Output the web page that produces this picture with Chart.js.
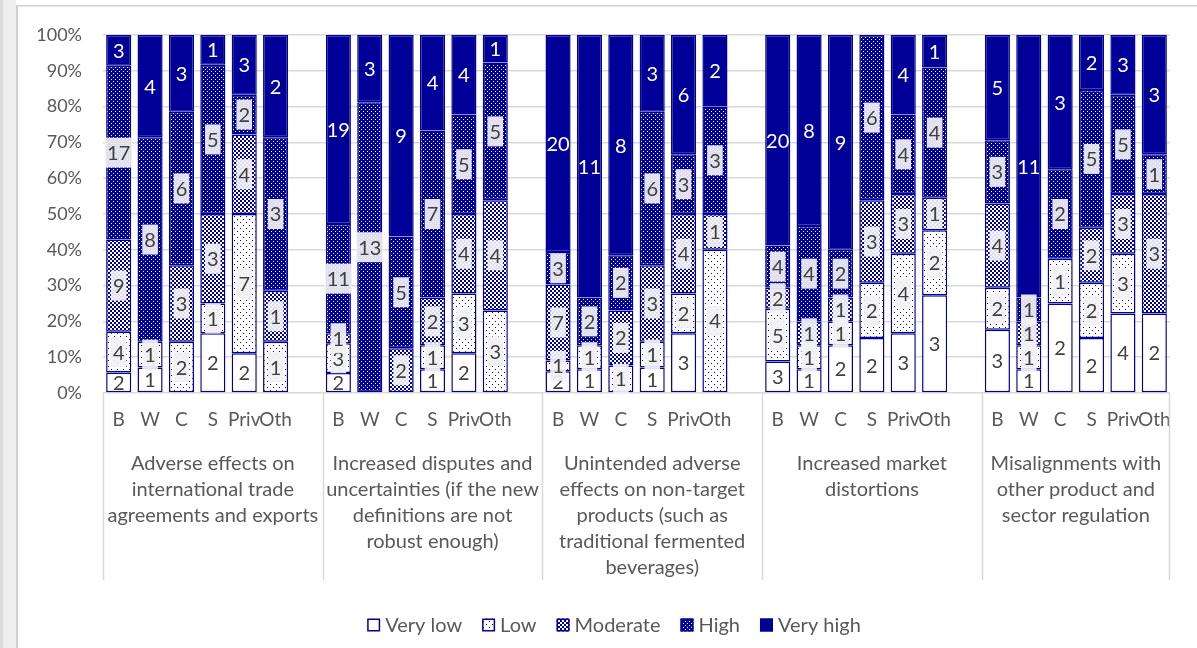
<!DOCTYPE html>
<html><head><meta charset="utf-8">
<script src="https://cdn.jsdelivr.net/npm/chart.js@4.4.1/dist/chart.umd.min.js"></script>
<style>html,body{margin:0;padding:0;background:#fff;}canvas{display:block;}</style>
</head><body>
<canvas id="c" width="1197" height="648"></canvas>
<script>
// ---- data ----
const subCategories = ['B','W','C','S','Priv','Oth'];
const groupLabels = [
  ['Adverse effects on','international trade','agreements and exports'],
  ['Increased disputes and','uncertainties (if the new','definitions are not','robust enough)'],
  ['Unintended adverse','effects on non-target','products (such as','traditional fermented','beverages)'],
  ['Increased market','distortions'],
  ['Misalignments with','other product and','sector regulation']
];
const seriesNames = ['Very low','Low','Moderate','High','Very high'];
// counts per group, in the order B, W, C, S, Priv, Oth
const veryLow  = [2,1,0,2,2,0,  2,0,0,1,2,0,  2,1,0,1,3,0,  3,1,2,2,3,3,  3,1,2,2,4,2];
const low      = [4,1,2,1,7,1,  3,0,0,1,3,3,  1,1,1,1,2,4,  5,1,1,2,4,2,  2,1,1,2,3,0];
const moderate = [9,0,3,3,4,1,  1,0,2,2,4,4,  7,0,2,3,4,1,  2,1,1,3,3,1,  4,1,0,2,3,3];
const high     = [17,8,6,5,2,3, 11,13,5,7,5,5, 3,2,2,6,3,3,  4,4,2,6,4,4,  3,1,2,5,5,1];
const veryHigh = [3,4,3,1,3,2,  19,3,9,4,4,1, 20,11,8,3,6,2, 20,8,9,0,4,1, 5,11,3,2,3,3];
const yTicks = [0,10,20,30,40,50,60,70,80,90,100];

// ---- build table ----
const BLUE = '#000099';
const TEXT = '#595959';
const FONT = 'Lato';
const series = [veryLow, low, moderate, high, veryHigh];
const labels = [];
const slotIndex = [];
groupLabels.forEach((g, gi) => {
  subCategories.forEach(s => { slotIndex.push(labels.length); labels.push(s); });
  if (gi < groupLabels.length - 1) labels.push('');
});
const totals = veryLow.map((_, i) => series.reduce((a, s) => a + s[i], 0));

const canvas = document.getElementById('c');
const ctx = canvas.getContext('2d');
function makePattern(size, bg, fg, pix) {
  const t = document.createElement('canvas'); t.width = t.height = size;
  const g = t.getContext('2d');
  g.fillStyle = bg; g.fillRect(0, 0, size, size);
  g.fillStyle = fg; pix.forEach(p => g.fillRect(p[0], p[1], p[2] || 1, p[3] || 1));
  return ctx.createPattern(t, 'repeat');
}
const fills = [
  '#ffffff',
  makePattern(6, '#ffffff', BLUE, [[0,0],[3,3]]),
  makePattern(4, '#ffffff', BLUE, [[0,0,2,2],[2,2,2,2]]),
  makePattern(4, BLUE, '#ffffff', [[1,1],[3,3]]),
  BLUE
];

const datasets = series.map((s, k) => {
  const data = new Array(labels.length).fill(null);
  const counts = new Array(labels.length).fill(0);
  s.forEach((v, i) => {
    data[slotIndex[i]] = v > 0 ? v / totals[i] * 100 : null;
    counts[slotIndex[i]] = v;
  });
  return {
    label: seriesNames[k], data, counts,
    backgroundColor: fills[k], borderColor: BLUE, borderWidth: 1.5, borderSkipped: false,
    categoryPercentage: 1, barPercentage: 0.8
  };
});

// ---- plugins ----
const framePlugin = {
  id: 'frame',
  beforeDraw(chart) {
    const c = chart.ctx;
    c.save();
    c.fillStyle = '#ffffff'; c.fillRect(0, 0, chart.width, chart.height);
    c.fillStyle = '#dadada'; c.fillRect(0, 0, 3, chart.height);
    c.fillStyle = '#eeeeee'; c.fillRect(3, 0, 13, chart.height);
    c.fillStyle = '#d0d0d0'; c.fillRect(16, 5, 2, chart.height);
    c.fillRect(16, 5, chart.width, 1.5);
    c.restore();
  }
};

const valueLabels = {
  id: 'valueLabels',
  afterDatasetsDraw(chart) {
    const c = chart.ctx;
    c.save();
    c.font = '20px ' + FONT;
    c.textAlign = 'center'; c.textBaseline = 'middle';
    chart.data.datasets.forEach((ds, di) => {
      const meta = chart.getDatasetMeta(di);
      meta.data.forEach((el, j) => {
        const n = ds.counts[j];
        if (!n) return;
        const y = (el.y + el.base) / 2;
        const txt = String(n);
        if (di >= 1 && di <= 3) {
          const w = c.measureText(txt).width + 4;
          c.fillStyle = 'rgba(242,242,244,0.92)';
          c.fillRect(el.x - w / 2, y - 15, w, 30);
        }
        c.fillStyle = di === 4 ? '#ffffff' : '#404040';
        c.fillText(txt, el.x, y + 1);
      });
    });
    c.restore();
  }
};

const groupAxis = {
  id: 'groupAxis',
  afterDraw(chart) {
    const c = chart.ctx, xs = chart.scales.x, a = chart.chartArea;
    const slot = xs.getPixelForValue(1) - xs.getPixelForValue(0);
    c.save();
    c.strokeStyle = '#d9d9d9'; c.lineWidth = 1.5;
    c.fillStyle = TEXT; c.font = '20px ' + FONT;
    c.textAlign = 'center'; c.textBaseline = 'middle';
    let start = 0;
    groupLabels.forEach((lines, gi) => {
      const n = subCategories.length + (gi < groupLabels.length - 1 ? 1 : 0);
      const x0 = xs.getPixelForValue(start) - slot / 2;
      const x1 = xs.getPixelForValue(start + n - 1) + slot / 2;
      c.beginPath(); c.moveTo(Math.round(x0) + 0.5, a.bottom); c.lineTo(Math.round(x0) + 0.5, 580); c.stroke();
      if (gi === groupLabels.length - 1) { c.beginPath(); c.moveTo(Math.round(x1) - 0.5, a.bottom); c.lineTo(Math.round(x1) - 0.5, 580); c.stroke(); }
      lines.forEach((t, li) => c.fillText(t, (x0 + x1) / 2, 464 + li * 26));
      start += n;
    });
    c.restore();
  }
};

const legendPlugin = {
  id: 'customLegend',
  afterDraw(chart) {
    const c = chart.ctx;
    c.save();
    c.font = '20px ' + FONT;
    c.textBaseline = 'middle';
    const box = 13, gapText = 5, gapItem = 20, y = 625;
    const items = chart.data.datasets.map(d => ({ d, w: box + gapText + c.measureText(d.label).width }));
    const total = items.reduce((s, it) => s + it.w, 0) + gapItem * (items.length - 1);
    let x = 614 - total / 2;
    items.forEach(it => {
      c.fillStyle = it.d.backgroundColor;
      c.fillRect(x, y - box / 2, box, box);
      c.strokeStyle = BLUE; c.lineWidth = 1.5;
      c.strokeRect(x + 0.75, y - box / 2 + 0.75, box - 1.5, box - 1.5);
      c.fillStyle = TEXT;
      c.fillText(it.d.label, x + box + gapText, y + 1);
      x += it.w + gapItem;
    });
    c.restore();
  }
};

new Chart(ctx, {
  type: 'bar',
  data: { labels, datasets },
  options: {
    responsive: false, animation: false,
    layout: { padding: { top: 35, right: 27, left: 0, bottom: 0 } },
    plugins: { legend: { display: false }, tooltip: { enabled: false } },
    scales: {
      x: {
        stacked: true,
        grid: { display: false, drawTicks: false },
        border: { display: false },
        ticks: { autoSkip: false, maxRotation: 0, minRotation: 0, padding: 15, color: TEXT, font: { family: FONT, size: 19 } },
        afterFit(s) { s.height = 255; }
      },
      y: {
        stacked: true, min: 0, max: 100,
        afterBuildTicks(s) { s.ticks = yTicks.map(v => ({ value: v })); },
        ticks: { callback: v => v + '%', padding: 21, color: TEXT, font: { family: FONT, size: 18 } },
        grid: { color: '#d9d9d9', lineWidth: 1.5, drawTicks: false },
        border: { display: false },
        afterFit(s) { s.width = 103; }
      }
    }
  },
  plugins: [framePlugin, valueLabels, groupAxis, legendPlugin]
});
</script>
</body></html>
